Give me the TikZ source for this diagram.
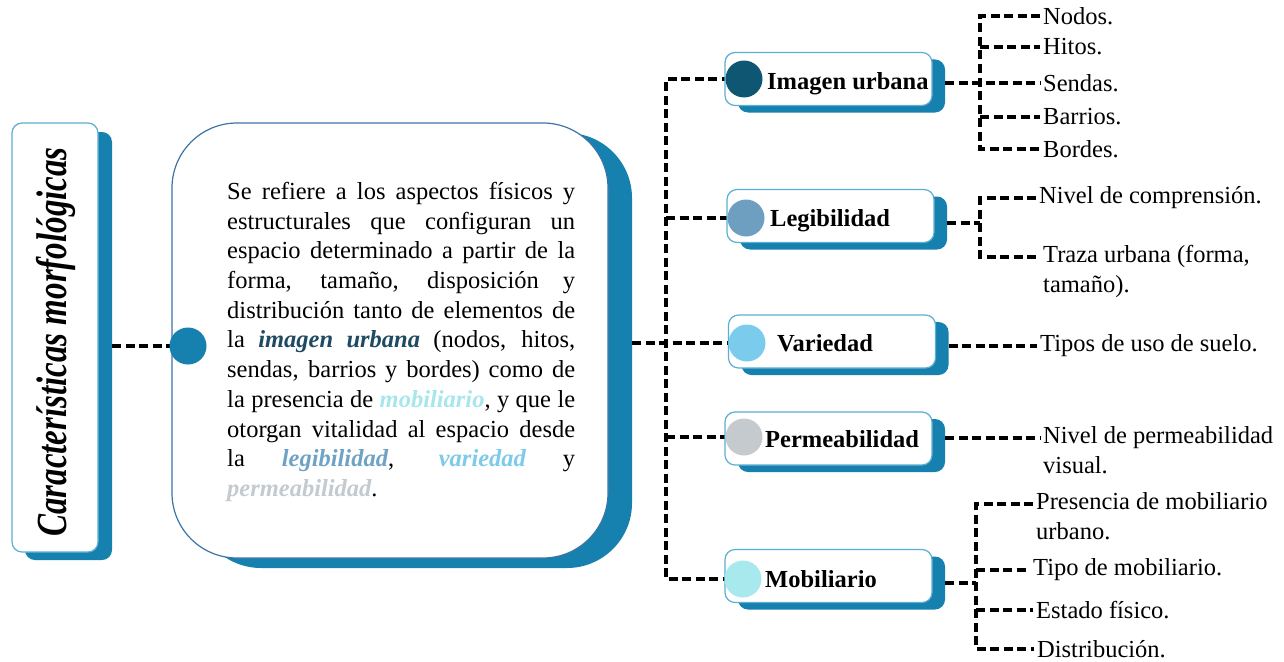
\documentclass[tikz,border=0pt]{standalone}
\usepackage{fontspec}
\setmainfont{Liberation Serif}
\usetikzlibrary{calc}
\setlength\parindent{0pt}
\definecolor{shblue}{HTML}{1681AE}
\definecolor{bordlt}{HTML}{5AAFD2}
\definecolor{borddk}{HTML}{3D74A6}
\definecolor{cimg}{HTML}{0F5673}
\definecolor{cleg}{HTML}{6E9FC1}
\definecolor{cvar}{HTML}{7BCCEC}
\definecolor{cper}{HTML}{C5CACE}
\definecolor{cmob}{HTML}{A8E9EE}
\definecolor{timg}{HTML}{1E4B63}
\definecolor{tleg}{HTML}{6FA3C6}
\definecolor{tvar}{HTML}{7DCAEA}
\definecolor{tper}{HTML}{C3CAD0}
\definecolor{tmob}{HTML}{A6E7EE}
\newcommand\kw[2]{{\bfseries\itshape\color{#1}#2}}
\begin{document}
\begin{tikzpicture}[x=1pt,y=-1pt,
  dl/.style={draw=black, line width=3.2pt, dash pattern=on 9pt off 4.5pt},
  shbox/.style={fill=shblue, rounded corners=10pt, minimum width=207pt, minimum height=53pt, inner sep=0pt},
  wbox/.style={draw=bordlt, line width=1.2pt, fill=white, rounded corners=10pt, minimum width=207pt, minimum height=53pt, inner sep=0pt},
  dot/.style={circle, inner sep=0pt, minimum size=37pt},
  lbl/.style={font=\fontsize{24.5}{29}\selectfont\bfseries, inner sep=0pt, anchor=base west},
  item/.style={font=\fontsize{24.5}{30}\selectfont, inner xsep=3pt, inner ysep=0pt, anchor=west},
  itemm/.style={font=\fontsize{24.5}{30}\selectfont, inner xsep=3pt, inner ysep=0pt, anchor=north west, align=left},
]
\fill[white] (0,0) rectangle (1284,661);
\useasboundingbox (0,0) rectangle (1284,661);

% title
\node[fill=shblue, rounded corners=10pt, minimum width=87pt, minimum height=428pt, inner sep=0pt] (tsh) at (68.5,346) {};
\node[draw=bordlt, line width=1.2pt, fill=white, rounded corners=10pt, minimum width=86pt, minimum height=429pt, inner sep=0pt] (tbox) at (55,337.5) {};
\node[rotate=90, inner sep=0pt, font=\fontsize{33}{36}\selectfont\bfseries\itshape] (ttext) at (56,342) {\scalebox{1}[1.3]{Características morfológicas}};

% central box
\node[fill=shblue, rounded corners=65pt, minimum width=436pt, minimum height=435pt, inner sep=0pt] (csh) at (414,350.5) {};
\node[draw=borddk, line width=1.2pt, fill=white, rounded corners=65pt, minimum width=436pt, minimum height=435pt, inner sep=0pt] (cbox) at (390,340.5) {};
\node[anchor=north west, inner sep=0pt, text width=348pt, align=justify, font=\fontsize{24.5}{29.7}\selectfont] (ctext) at (227,182) {\tolerance=10000\hyphenpenalty=10000\spaceskip=0.25em plus 0.4em minus 0.1em
Se refiere a los aspectos físicos y\linebreak
estructurales que configuran un\linebreak
espacio determinado a partir de la\linebreak
forma, tamaño, disposición y\linebreak
distribución tanto de elementos de\linebreak
la \kw{timg}{imagen urbana} (nodos, hitos,\linebreak
sendas, barrios y bordes) como de\linebreak
la presencia de \kw{tmob}{mobiliario}, y que le\linebreak
otorgan vitalidad al espacio desde\linebreak
la \kw{tleg}{legibilidad}, \kw{tvar}{variedad} y\linebreak
\kw{tper}{permeabilidad}.\par};

\coordinate (ccp) at (188,346);
\draw[dl] (tsh.east |- ccp) -- (ccp);
\node[dot, fill=shblue] (cc) at (ccp) {};

% category boxes: coordinates of dots
\coordinate (id) at (744,79);
\coordinate (ld) at (746,218);
\coordinate (vd) at (747,343);
\coordinate (pd) at (744,437);
\coordinate (md) at (743,579);
\coordinate (tr) at (666,0);

% trunk and branches
\draw[dl] (id) -- (tr |- id) -- (tr |- md) -- (md);
\draw[dl] (tr |- ld) -- (ld);
\draw[dl] (tr |- pd) -- (pd);
\draw[dl] (csh.east |- vd) -- (vd);

% sub items
\node[item] (n1) at (1040,16) {Nodos.};
\node[item] (n2) at (1040,47) {Hitos.};
\node[item] (n3) at (1040,83) {Sendas.};
\node[item] (n4) at (1040,117) {Barrios.};
\node[item] (n5) at (1040,149) {Bordes.};
\node[item] (l1) at (1036,198) {Nivel de comprensión.};
\node[itemm] (l2) at (1040,245) {Traza urbana (forma,\\tamaño).};
\node[item] (t1) at (1037,346) {Tipos de uso de suelo.};
\node[itemm] (p1) at (1040,426) {Nivel de permeabilidad\\visual.};
\node[itemm] (m1) at (1033,492) {Presencia de mobiliario\\urbano.};
\node[item] (m2) at (1030,570) {Tipo de mobiliario.};
\node[item] (m3) at (1033,610) {Estado físico.};
\node[item] (m4) at (1034,649) {Distribución.};
\coordinate (l2a) at ([yshift=-12pt]l2.north west);
\coordinate (p1a) at ([yshift=-12pt]p1.north west);
\coordinate (m1a) at ([yshift=-12pt]m1.north west);
\coordinate (s1) at (980,0);
\coordinate (s2) at (980,0);
\coordinate (s3) at (976,0);

% boxes
\node[shbox] (ish) at (841.5,86) {};
\node[wbox] (ibox) at (828.5,79) {};
\node[dot, fill=cimg] (ic) at (id) {};
\node[lbl] (il) at (767,89) {Imagen urbana};

\node[shbox] (lsh) at (843.5,223) {};
\node[wbox] (lbox) at (830.5,216) {};
\node[dot, fill=cleg] (lc) at (ld) {};
\node[lbl] (ll) at (770,226) {Legibilidad};

\node[shbox] (vsh) at (845,348.5) {};
\node[wbox] (vbox) at (832,341.5) {};
\node[dot, fill=cvar] (vc) at (vd) {};
\node[lbl] (vl) at (777,351) {Variedad};

\node[shbox] (psh) at (841.5,445.5) {};
\node[wbox] (pbox) at (828.5,438.5) {};
\node[dot, fill=cper] (pc) at (pd) {};
\node[lbl] (pl) at (765,447) {Permeabilidad};

\node[shbox] (msh) at (841.5,583) {};
\node[wbox] (mbox) at (828.5,576) {};
\node[dot, fill=cmob] (mc) at (md) {};
\node[lbl] (ml) at (765,587) {Mobiliario};

% sub connectors
\draw[dl] (ish.east |- n3) -- (n3.west);
\draw[dl] (n1.west) -- (s1 |- n1) -- (s1 |- n5) -- (n5.west);
\draw[dl] (s1 |- n2) -- (n2.west);
\draw[dl] (s1 |- n4) -- (n4.west);

\draw[dl] (lsh.east) -- (s2 |- lsh.east);
\draw[dl] (l1.west) -- (s2 |- l1) -- (s2 |- l2a) -- (l2a);

\draw[dl] (vsh.east |- t1) -- (t1.west);
\draw[dl] (psh.east |- p1a) -- (p1a);

\draw[dl] (msh.east) -- (s3 |- msh.east);
\draw[dl] (m1a) -- (s3 |- m1a) -- (s3 |- m4) -- (m4.west);
\draw[dl] (s3 |- m2) -- (m2.west);
\draw[dl] (s3 |- m3) -- (m3.west);
\end{tikzpicture}
\end{document}
